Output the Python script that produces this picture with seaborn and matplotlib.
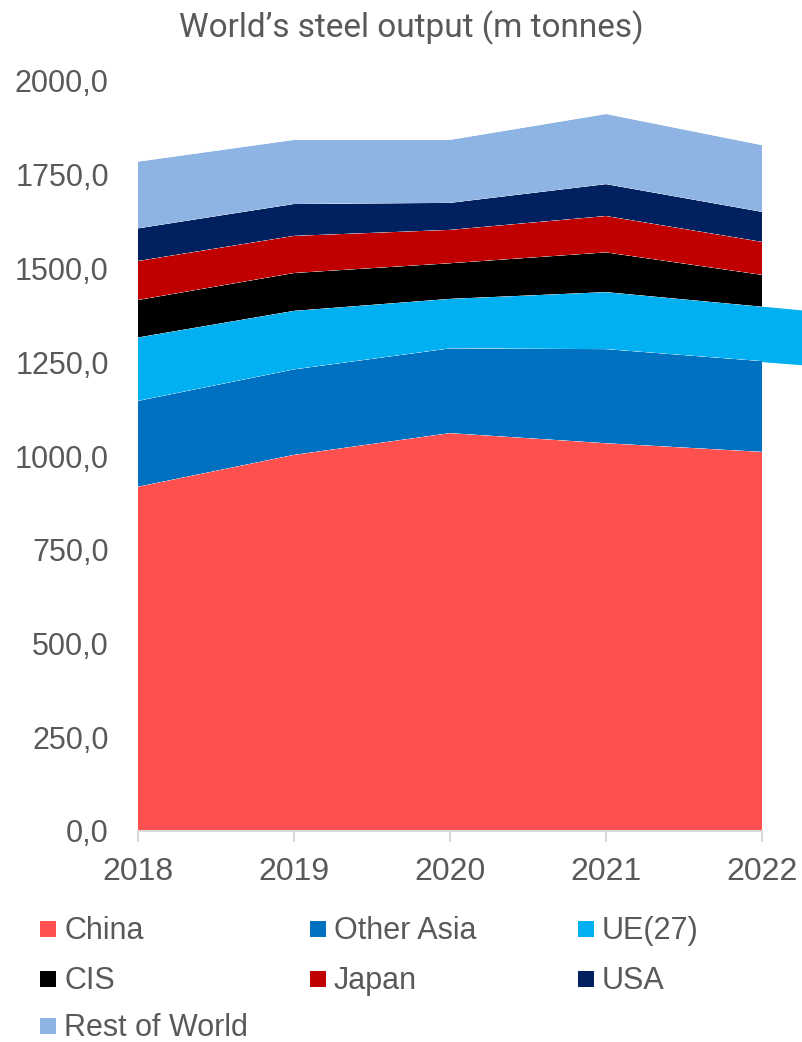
import matplotlib
matplotlib.use("Agg")
import matplotlib.pyplot as plt
from matplotlib.patches import Rectangle
from matplotlib.ticker import FixedLocator, FuncFormatter
import numpy as np
import pandas as pd
import seaborn as sns
import seaborn.objects as so

# Steel output by region, million tonnes
years = [2018, 2019, 2020, 2021, 2022]
regions = ["China", "Other Asia", "UE(27)", "CIS", "Japan", "USA", "Rest of World"]
china = [918, 1003, 1061, 1034, 1011]
other_asia = [229, 228, 226, 251, 242]
ue27 = [169, 156, 132, 152, 145]
cis = [100, 101, 95, 106, 85]
japan = [104, 99, 89, 97, 88]
usa = [87, 85, 72, 85, 80]
rest_of_world = [178, 171, 168, 187, 178]
series = [china, other_asia, ue27, cis, japan, usa, rest_of_world]

colors = ["#FF5050", "#0070C0", "#00B0F0", "#000000", "#C00000", "#002060", "#8EB4E3"]
palette = dict(zip(regions, colors))

TEXT = "#595959"
AXIS = "#D9D9D9"
BODY_FONT = ["Liberation Sans", "DejaVu Sans"]

sns.set_theme(style="white")
plt.rcParams["font.family"] = BODY_FONT
so.Plot.config.theme.update(sns.axes_style("white"))
so.Plot.config.theme.update({"font.family": BODY_FONT, "axes.grid": False})

rows = []
for y_i, yr in enumerate(years):
    for reg, vals in zip(regions, series):
        rows.append({"year": yr, "region": reg, "output": vals[y_i]})
df = pd.DataFrame(rows)

W, H = 802, 1042
fig = plt.figure(figsize=(W / 100, H / 100), dpi=100)
fig.patch.set_facecolor("white")
ax = fig.add_axes([138 / W, 1 - 831 / H, 624 / W, 750 / H])

(
    so.Plot(df, x="year", y="output", color="region")
    .add(so.Area(alpha=1, edgewidth=0), so.Stack(), legend=False)
    .scale(color=so.Nominal(palette, order=regions))
    .on(ax)
    .plot()
)

# continuation of the UE(27) band past the last year, out to the figure edge
cum = np.cumsum(np.array(series), axis=0)
ue_bottom = cum[1]
ue_top = cum[2]
pos = ax.get_position()
x_end = years[-1] + (1 - pos.x1) / pos.width * (years[-1] - years[0])
dx = x_end - years[-1]
bot_end = ue_bottom[-1] + (ue_bottom[-1] - ue_bottom[-2]) * dx
top_end = ue_top[-1] + (ue_top[-1] - ue_top[-2]) * dx
ax.fill_between([years[-1], x_end], [ue_bottom[-1], bot_end], [ue_top[-1], top_end],
                facecolor=palette["UE(27)"], edgecolor=palette["UE(27)"],
                linewidth=0.8, clip_on=False, zorder=3)

ax.set_facecolor("white")
ax.grid(False)
ax.set_xlim(years[0], years[-1])
ax.set_ylim(0, 2000)
ax.set_xlabel("")
ax.set_ylabel("")
for side in ["top", "right", "left"]:
    ax.spines[side].set_visible(False)
ax.spines["bottom"].set_visible(True)
ax.spines["bottom"].set_color(AXIS)
ax.spines["bottom"].set_linewidth(1.5)
ax.spines["bottom"].set_zorder(4)

ax.xaxis.set_major_locator(FixedLocator(years))
ax.xaxis.set_major_formatter(FuncFormatter(lambda v, p: f"{int(round(v))}"))
ax.yaxis.set_major_locator(FixedLocator(np.arange(0, 2001, 250)))
ax.yaxis.set_major_formatter(FuncFormatter(lambda v, p: f"{v:.1f}".replace(".", ",")))

ax.tick_params(axis="x", bottom=True, length=8, width=1.5, color=AXIS,
               labelsize=23, labelcolor=TEXT, pad=11)
ax.tick_params(axis="y", left=False, length=0, labelsize=22, labelcolor=TEXT, pad=21)
for lab in ax.get_xticklabels() + ax.get_yticklabels():
    lab.set_fontfamily(BODY_FONT)

fig.text(411 / W, 1 - 28 / H, "World\u2019s steel output (m tonnes)",
         ha="center", va="center", fontsize=24, color=TEXT,
         family=["Roboto", "DejaVu Sans"])

# legend laid out row by row in three columns
col_x = [40, 310, 578]
row_y = [929, 979, 1026]
sq = 16
for i, (reg, col) in enumerate(zip(regions, colors)):
    r, c = divmod(i, 3)
    x0, yc = col_x[c], row_y[r]
    fig.patches.append(Rectangle((x0 / W, 1 - (yc + sq / 2) / H), sq / W, sq / H,
                                 transform=fig.transFigure, facecolor=col,
                                 edgecolor="none"))
    fig.text((x0 + 24) / W, 1 - (yc + 10) / H, reg, ha="left", va="baseline",
             fontsize=22, color=TEXT, family=BODY_FONT)

fig.savefig("out.png", dpi=100, facecolor="white")
